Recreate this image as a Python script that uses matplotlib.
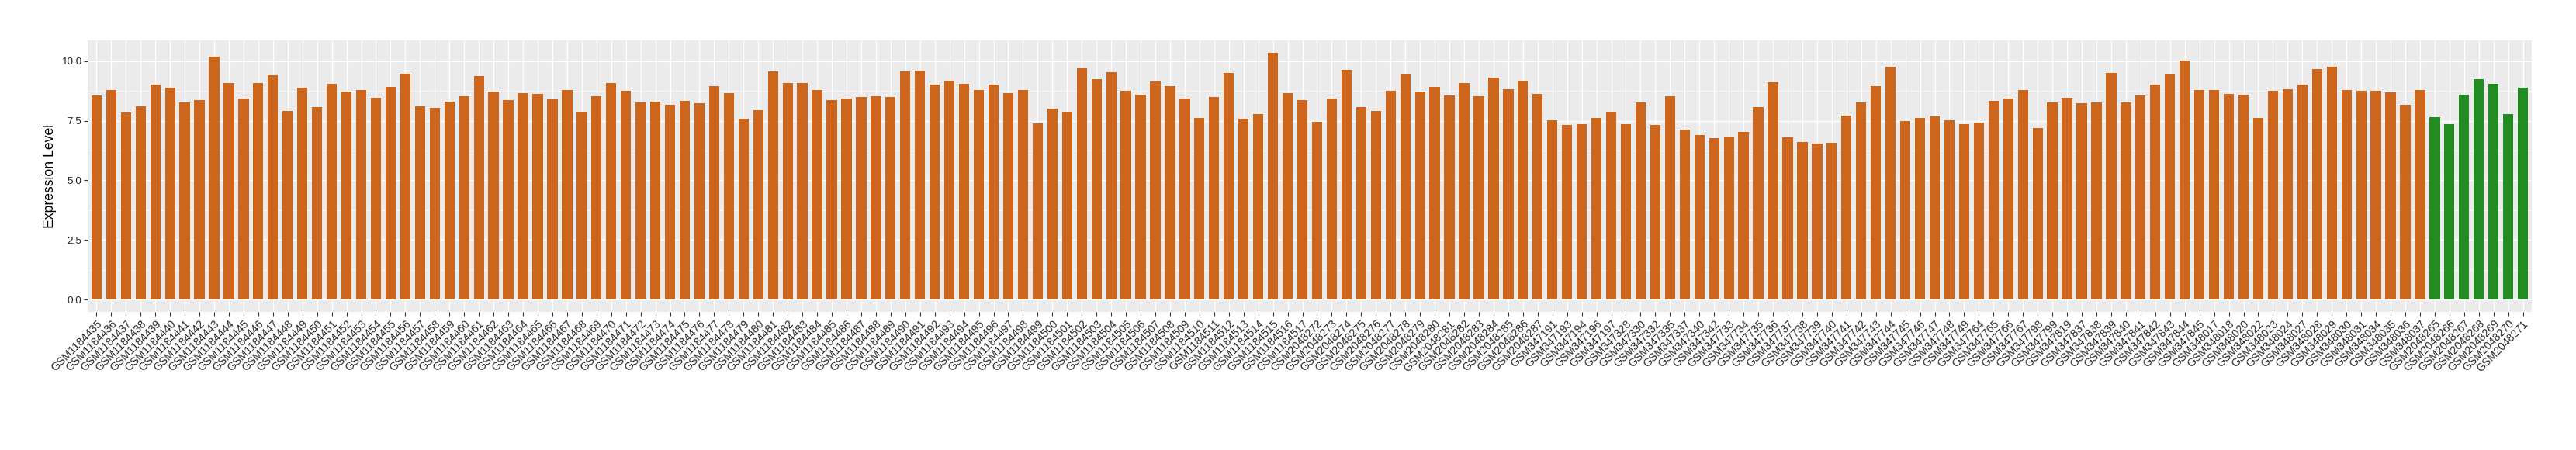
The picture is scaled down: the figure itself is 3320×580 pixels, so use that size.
import matplotlib
matplotlib.use("Agg")
import matplotlib.pyplot as plt
from matplotlib.ticker import FixedLocator, FormatStrFormatter

plt.rcParams['font.family'] = ['Liberation Sans', 'DejaVu Sans']

samples = [
    "GSM1184435", "GSM1184436", "GSM1184437", "GSM1184438", "GSM1184439", "GSM1184440",
    "GSM1184441", "GSM1184442", "GSM1184443", "GSM1184444", "GSM1184445", "GSM1184446",
    "GSM1184447", "GSM1184448", "GSM1184449", "GSM1184450", "GSM1184451", "GSM1184452",
    "GSM1184453", "GSM1184454", "GSM1184455", "GSM1184456", "GSM1184457", "GSM1184458",
    "GSM1184459", "GSM1184460", "GSM1184461", "GSM1184462", "GSM1184463", "GSM1184464",
    "GSM1184465", "GSM1184466", "GSM1184467", "GSM1184468", "GSM1184469", "GSM1184470",
    "GSM1184471", "GSM1184472", "GSM1184473", "GSM1184474", "GSM1184475", "GSM1184476",
    "GSM1184477", "GSM1184478", "GSM1184479", "GSM1184480", "GSM1184481", "GSM1184482",
    "GSM1184483", "GSM1184484", "GSM1184485", "GSM1184486", "GSM1184487", "GSM1184488",
    "GSM1184489", "GSM1184490", "GSM1184491", "GSM1184492", "GSM1184493", "GSM1184494",
    "GSM1184495", "GSM1184496", "GSM1184497", "GSM1184498", "GSM1184499", "GSM1184500",
    "GSM1184501", "GSM1184502", "GSM1184503", "GSM1184504", "GSM1184505", "GSM1184506",
    "GSM1184507", "GSM1184508", "GSM1184509", "GSM1184510", "GSM1184511", "GSM1184512",
    "GSM1184513", "GSM1184514", "GSM1184515", "GSM1184516", "GSM1184517",
    "GSM2048272", "GSM2048273", "GSM2048274", "GSM2048275", "GSM2048276", "GSM2048277",
    "GSM2048278", "GSM2048279", "GSM2048280", "GSM2048281", "GSM2048282", "GSM2048283",
    "GSM2048284", "GSM2048285", "GSM2048286", "GSM2048287",
    "GSM347191", "GSM347193", "GSM347194", "GSM347196", "GSM347197",
    "GSM347328", "GSM347330", "GSM347332", "GSM347335", "GSM347337", "GSM347340", "GSM347342",
    "GSM347733", "GSM347734", "GSM347735", "GSM347736", "GSM347737", "GSM347738",
    "GSM347739", "GSM347740", "GSM347741", "GSM347742", "GSM347743", "GSM347744",
    "GSM347745", "GSM347746", "GSM347747", "GSM347748", "GSM347749",
    "GSM347764", "GSM347765", "GSM347766", "GSM347767", "GSM347798", "GSM347799", "GSM347819",
    "GSM347837", "GSM347838", "GSM347839", "GSM347840", "GSM347841", "GSM347842",
    "GSM347843", "GSM347844", "GSM347845",
    "GSM348017", "GSM348018", "GSM348020", "GSM348022", "GSM348023", "GSM348024",
    "GSM348027", "GSM348028", "GSM348029", "GSM348030", "GSM348031", "GSM348034",
    "GSM348035", "GSM348036", "GSM348037",
    "GSM2048265", "GSM2048266", "GSM2048267", "GSM2048268", "GSM2048269", "GSM2048270",
    "GSM2048271",
]

expression = [
    8.57, 8.77, 7.84, 8.11, 9.01, 8.89, 8.28, 8.36, 10.18, 9.09, 8.42, 9.07, 9.39, 7.90,
    8.89, 8.07, 9.04, 8.71, 8.77, 8.45, 8.92, 9.47, 8.10, 8.04, 8.31, 8.51, 9.36, 8.71,
    8.36, 8.66, 8.63, 8.39, 8.80, 7.87, 8.54, 9.07, 8.74, 8.28, 8.31, 8.16, 8.33, 8.22,
    8.95, 8.66, 7.58, 7.93, 9.56, 9.07, 9.09, 8.77, 8.36, 8.42, 8.48, 8.51, 8.48, 9.56,
    9.59, 9.01, 9.18, 9.04, 8.77, 9.01, 8.66, 8.77, 7.40, 8.01, 7.87, 9.71, 9.24, 9.53,
    8.74, 8.60, 9.15, 8.95, 8.42, 7.63, 8.48, 9.50, 7.58, 7.78, 10.35, 8.66, 8.36,
    7.46, 8.42, 9.62, 8.07, 7.90, 8.74, 9.45, 8.71, 8.92, 8.57, 9.09, 8.54, 9.30, 8.83,
    9.18, 8.63,
    7.52, 7.31, 7.37, 7.63, 7.87,
    7.37, 8.25, 7.31, 8.51, 7.14, 6.90, 6.76,
    6.85, 7.02, 8.07, 9.12, 6.79, 6.61, 6.55, 6.58, 7.72, 8.28, 8.95, 9.77, 7.49, 7.60,
    7.68, 7.52, 7.35,
    7.43, 8.33, 8.42, 8.80, 7.20, 8.25, 8.45,
    8.22, 8.28, 9.50, 8.28, 8.57, 9.01, 9.42, 10.03, 8.77,
    8.77, 8.63, 8.60, 7.63, 8.74, 8.83, 9.01, 9.65, 9.77, 8.80, 8.74, 8.74, 8.69, 8.16, 8.80,
    7.66, 7.35, 8.60, 9.24, 9.04, 7.78, 8.89,
]

groups = ["A"] * 159 + ["B"] * 7
group_colors = {"A": "#CD661D", "B": "#228B22"}

y_ticks = [0.0, 2.5, 5.0, 7.5, 10.0]
y_minor = [1.25, 3.75, 6.25, 8.75]

W, H, DPI = 3320, 580, 100
fig = plt.figure(figsize=(W / DPI, H / DPI), dpi=DPI)
ax = fig.add_axes([113 / W, 1 - 402 / H, (3263 - 113) / W, (402 - 52) / H])

x = list(range(len(samples)))
colors = [group_colors[g] for g in groups]
ax.bar(x, expression, width=0.7, color=colors, zorder=3)

ymax = max(expression)
ax.set_xlim(-0.6, len(samples) - 1 + 0.6)
ax.set_ylim(-0.05 * ymax, 1.05 * ymax)

ax.set_facecolor("#EBEBEB")
for s in ax.spines.values():
    s.set_visible(False)

ax.set_xticks(x)
ax.set_xticklabels(samples, rotation=45, ha="right", va="top", rotation_mode="anchor")
ax.yaxis.set_major_locator(FixedLocator(y_ticks))
ax.yaxis.set_minor_locator(FixedLocator(y_minor))
ax.yaxis.set_major_formatter(FormatStrFormatter("%.1f"))

ax.grid(which="major", color="white", linewidth=1.0, zorder=0)
ax.grid(which="minor", axis="y", color="white", linewidth=0.5, zorder=0)
ax.set_axisbelow(True)

ax.tick_params(axis="both", which="major", length=3.6, width=0.8, color="#333333",
               labelcolor="#262626", labelsize=9.7, pad=2.2)
ax.tick_params(axis="x", which="major", labelsize=10.2)
ax.tick_params(axis="y", which="minor", length=0)

ax.set_ylabel("Expression Level", fontsize=12.7, color="black", labelpad=4)

fig.savefig("out.png", dpi=DPI, facecolor="white")
